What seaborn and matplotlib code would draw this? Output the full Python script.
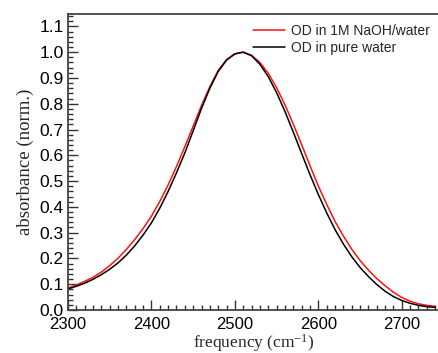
import numpy as np
import pandas as pd
import matplotlib
matplotlib.use("Agg")
import matplotlib.pyplot as plt
from matplotlib.ticker import MultipleLocator, FixedLocator
import seaborn as sns

# ---- data ----
frequency = [2300, 2310, 2320, 2330, 2340, 2350, 2360, 2370, 2380, 2390,
             2400, 2410, 2420, 2430, 2440, 2450, 2460, 2470, 2480, 2490,
             2500, 2510, 2520, 2530, 2540, 2550, 2560, 2570, 2580, 2590,
             2600, 2610, 2620, 2630, 2640, 2650, 2660, 2670, 2680, 2690,
             2700, 2710, 2720, 2730, 2740]
od_naoh = [0.085, 0.097, 0.111, 0.127, 0.147, 0.172, 0.201, 0.235, 0.273, 0.316,
           0.364, 0.421, 0.485, 0.556, 0.633, 0.713, 0.793, 0.866, 0.929, 0.971,
           0.994, 1.000, 0.988, 0.960, 0.918, 0.862, 0.796, 0.721, 0.642, 0.560,
           0.481, 0.410, 0.344, 0.287, 0.236, 0.192, 0.155, 0.122, 0.094, 0.069,
           0.049, 0.034, 0.024, 0.018, 0.014]
od_water = [0.082, 0.092, 0.104, 0.119, 0.137, 0.158, 0.183, 0.213, 0.249, 0.291,
            0.338, 0.395, 0.460, 0.532, 0.609, 0.695, 0.782, 0.860, 0.925, 0.969,
            0.993, 1.000, 0.986, 0.953, 0.905, 0.843, 0.770, 0.690, 0.607, 0.525,
            0.448, 0.377, 0.312, 0.256, 0.207, 0.165, 0.130, 0.099, 0.073, 0.052,
            0.037, 0.026, 0.018, 0.013, 0.010]
series_labels = ["OD in 1M NaOH/water", "OD in pure water"]
series_colors = ["#ff1010", "#000000"]
x_ticks = [2300, 2400, 2500, 2600, 2700]
y_ticks = [0.0, 0.1, 0.2, 0.3, 0.4, 0.5, 0.6, 0.7, 0.8, 0.9, 1.0, 1.1]

df = pd.DataFrame({
    "frequency": frequency * 2,
    "absorbance": od_naoh + od_water,
    "series": [series_labels[0]] * len(frequency) + [series_labels[1]] * len(frequency),
})

sns.set_style("ticks")
plt.rcParams["font.family"] = ["Liberation Sans", "DejaVu Sans"]
plt.rcParams["mathtext.fontset"] = "custom"
plt.rcParams["mathtext.rm"] = "Liberation Serif"
plt.rcParams["mathtext.it"] = "Liberation Serif:italic"
plt.rcParams["mathtext.bf"] = "Liberation Serif:bold"

fig = plt.figure(figsize=(4.38, 3.53), dpi=100)
ax = fig.add_axes([68 / 438, 1 - 310 / 353, 1 - 68 / 438 + 0.003, (310 - 14) / 353])

sns.lineplot(data=df, x="frequency", y="absorbance", hue="series",
             hue_order=series_labels, palette=series_colors, linewidth=1.1,
             ax=ax, legend=True, sort=False)

ax.set_xlim(2300, 2745)
ax.set_ylim(0, 1.148)
ax.xaxis.set_major_locator(FixedLocator(x_ticks))
ax.yaxis.set_major_locator(FixedLocator(y_ticks))
ax.set_xticklabels([str(v) for v in x_ticks])
ax.set_yticklabels([f"{v:.1f}" for v in y_ticks])
ax.xaxis.set_minor_locator(MultipleLocator(10))
ax.yaxis.set_minor_locator(MultipleLocator(0.02))

ax.tick_params(axis="both", which="major", direction="in", length=7, width=1.0,
               labelsize=12.5, colors="#333333", labelcolor="black")
ax.tick_params(axis="both", which="minor", direction="in", length=3.5, width=1.0,
               colors="#333333")
ax.tick_params(axis="x", which="both", top=False, pad=5, labelsize=12)
ax.tick_params(axis="y", which="both", right=False, pad=3)

for side in ["left", "bottom", "top", "right"]:
    ax.spines[side].set_visible(True)
    ax.spines[side].set_color("#444444")
    ax.spines[side].set_linewidth(1.3)

ax.set_xlabel(r"frequency (cm$^{\mathrm{-1}}$)", family=["Liberation Serif"],
              fontsize=12.5, labelpad=0)
ax.set_ylabel("absorbance (norm.)", family=["Liberation Serif"], fontsize=13.5, labelpad=4)

leg = ax.legend(loc="upper right", frameon=False, fontsize=10, handlelength=2.3,
                handletextpad=0.4, borderaxespad=0.3, labelspacing=0.2)

fig.savefig("out.png", dpi=100)
